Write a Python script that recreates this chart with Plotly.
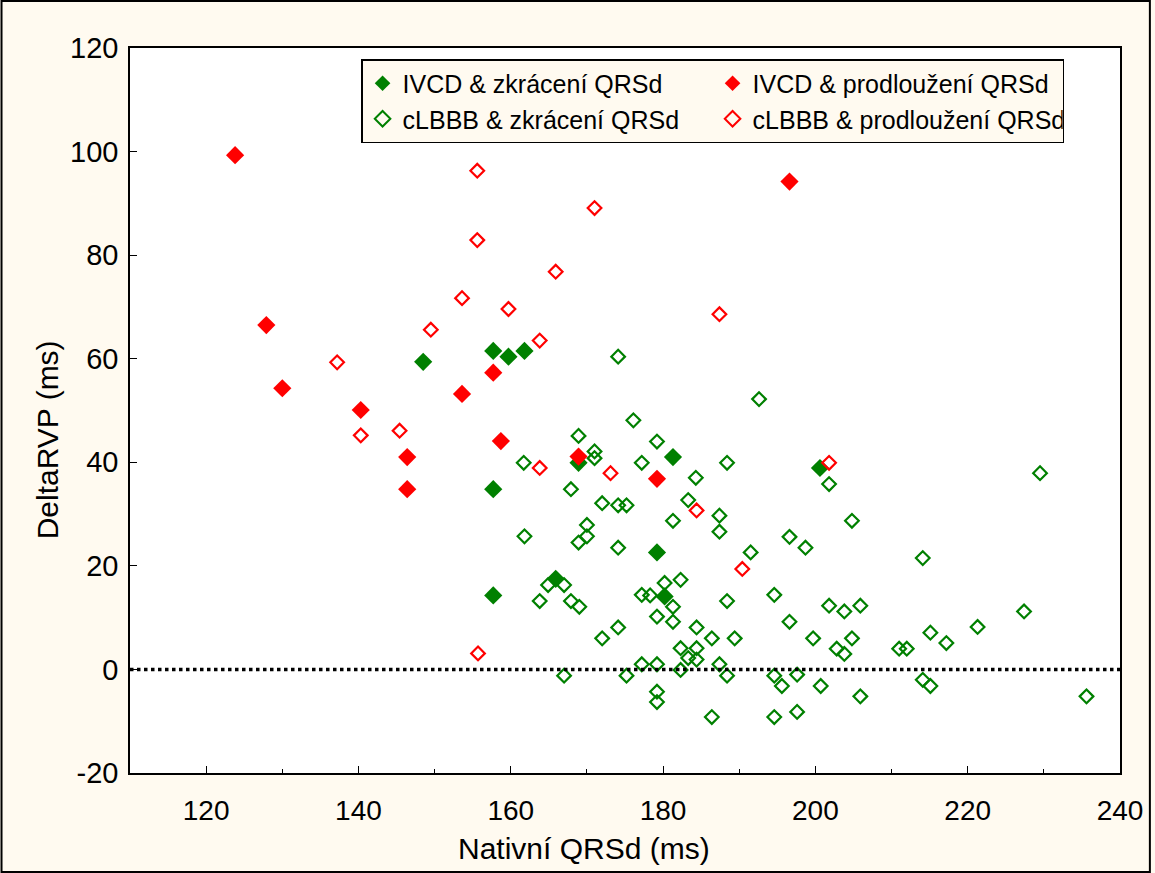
import plotly.graph_objects as go

# IVCD & zkrácení QRSd (green filled)
ivcd_zkr_x = [148.5, 157.7, 159.7, 161.8, 157.7, 157.7, 165.9, 168.9, 179.2, 180.2, 181.3, 200.6]
ivcd_zkr_y = [59.4, 61.5, 60.4, 61.5, 34.8, 14.3, 17.5, 39.9, 22.6, 14.1, 41.0, 38.9]

# IVCD & prodloužení QRSd (red filled)
ivcd_pro_x = [123.8, 127.9, 130.0, 140.3, 146.4, 146.4, 153.6, 157.7, 158.7, 168.9, 179.2, 196.6]
ivcd_pro_y = [99.3, 66.5, 54.3, 50.1, 41.0, 34.8, 53.2, 57.3, 44.1, 41.1, 36.8, 94.2]

# cLBBB & zkrácení QRSd (green open)
clbbb_zkr_x = [174.1, 192.6, 176.1, 168.9, 179.2, 171.0, 171.0, 161.7, 177.2, 188.4,
               184.3, 167.9, 172.0, 174.1, 175.2, 183.3, 187.4, 187.4, 196.6, 181.3,
               170.0, 170.0, 168.9, 161.8, 174.1, 191.5, 164.9, 167.0, 163.8, 167.9,
               169.0, 180.2, 182.3, 177.2, 178.3, 181.3, 188.4, 194.6, 196.6, 179.2,
               181.3, 174.1, 172.0, 184.4, 186.4, 189.4, 182.3, 184.4, 183.3, 184.4,
               177.2, 179.2, 182.3, 187.4, 188.4, 167.0, 175.2, 179.2, 179.2, 186.4,
               194.6, 194.6, 195.6, 197.6, 201.8, 229.5, 204.8, 198.7, 214.1, 201.8,
               203.8, 205.9, 227.4, 221.3, 215.1, 217.2, 211.0, 212.0, 199.7, 204.8,
               202.8, 203.8, 197.6, 200.7, 205.9, 214.1, 215.1, 235.6]
clbbb_zkr_y = [60.4, 52.2, 48.1, 45.1, 44.0, 42.1, 40.8, 39.9, 39.9, 39.9,
               37.0, 34.8, 32.1, 31.7, 31.7, 32.7, 29.7, 26.6, 25.6, 28.7,
               27.9, 25.7, 24.5, 25.7, 23.5, 22.6, 16.3, 16.3, 13.2, 13.2,
               12.1, 16.7, 17.3, 14.4, 14.3, 12.1, 13.2, 14.4, 9.2, 10.2,
               9.2, 8.1, 6.0, 8.1, 6.0, 6.0, 4.1, 4.1, 2.2, 1.9,
               1.0, 1.0, -0.1, 1.0, -1.2, -1.2, -1.2, -4.3, -6.3, -9.2,
               -9.2, -1.2, -3.2, -8.2, 35.8, 37.9, 28.7, 23.5, 21.5, 12.3,
               11.2, 12.3, 11.2, 8.2, 7.1, 5.1, 4.0, 4.0, 6.0, 6.0,
               4.0, 3.0, -1.0, -3.2, -5.2, -2.0, -3.2, -5.2]

# cLBBB & prodloužení QRSd (red open)
clbbb_pro_x = [137.2, 140.3, 145.4, 155.6, 155.6, 153.6, 149.5, 159.7, 163.8, 165.9,
               171.0, 187.4, 163.8, 173.1, 184.4, 190.4, 201.8, 155.7]
clbbb_pro_y = [59.3, 45.2, 46.1, 96.3, 82.9, 71.7, 65.6, 69.6, 63.5, 76.8,
               89.1, 68.6, 38.9, 37.9, 30.7, 19.4, 39.9, 3.1]

x_ticks = [120, 140, 160, 180, 200, 220, 240]
y_ticks = [-20, 0, 20, 40, 60, 80, 100, 120]
y_ticktext = ["-20", "0", "20", "40", "60", "80", "100", "120"]

GREEN = "#008000"
RED = "#FF0000"
BG = "#FFFAF0"
FONT = "Liberation Sans, Arial, sans-serif"

fig = go.Figure()
fig.add_trace(go.Scatter(x=clbbb_zkr_x, y=clbbb_zkr_y, mode="markers",
                         name="cLBBB & zkrácení QRSd", legendrank=3,
                         marker=dict(symbol="diamond-open", size=10.5, color=GREEN,
                                     line=dict(width=2.2, color=GREEN))))
fig.add_trace(go.Scatter(x=ivcd_zkr_x, y=ivcd_zkr_y, mode="markers",
                         name="IVCD & zkrácení QRSd", legendrank=1,
                         marker=dict(symbol="diamond", size=14, color=GREEN,
                                     line=dict(width=0))))
fig.add_trace(go.Scatter(x=clbbb_pro_x, y=clbbb_pro_y, mode="markers",
                         name="cLBBB & prodloužení QRSd", legendrank=4,
                         marker=dict(symbol="diamond-open", size=10.5, color=RED,
                                     line=dict(width=2.2, color=RED))))
fig.add_trace(go.Scatter(x=ivcd_pro_x, y=ivcd_pro_y, mode="markers",
                         name="IVCD & prodloužení QRSd", legendrank=2,
                         marker=dict(symbol="diamond", size=14, color=RED,
                                     line=dict(width=0))))

W, H = 1155, 873
L, R, T, B = 130, 31, 48, 100
pw, ph = W - L - R, H - T - B

fig.add_shape(type="line", xref="paper", yref="y", x0=0, x1=1, y0=0, y1=0,
              line=dict(color="black", width=3.5, dash="dot"), layer="above")
fig.add_shape(type="rect", xref="paper", yref="paper",
              x0=(1 - L) / pw, x1=(W - 1 - L) / pw,
              y0=(H - B - (H - 1)) / ph, y1=(H - B - 1) / ph,
              line=dict(color="black", width=2), fillcolor="rgba(0,0,0,0)")

# axis titles (centred on the page as in the reference)
fig.add_annotation(text="Nativní QRSd (ms)", xref="paper", yref="paper",
                   x=(586 - L) / pw, y=(H - B - 848) / ph,
                   xanchor="center", yanchor="middle", showarrow=False,
                   font=dict(size=30, family=FONT, color="black"))
fig.add_annotation(text="DeltaRVP (ms)", xref="paper", yref="paper",
                   x=(47 - L) / pw, y=(H - B - 440) / ph, textangle=-90,
                   xanchor="center", yanchor="middle", showarrow=False,
                   font=dict(size=30, family=FONT, color="black"))

fig.update_layout(
    width=W, height=H,
    margin=dict(l=L, r=R, t=T, b=B),
    paper_bgcolor=BG, plot_bgcolor="white",
    font=dict(family=FONT, color="black"),
    showlegend=True,
    legend=dict(orientation="h", x=(362 - L) / pw, y=(H - B - 59) / ph,
                xanchor="left", yanchor="top",
                bgcolor=BG, bordercolor="black", borderwidth=1.5,
                font=dict(size=25, family=FONT), entrywidth=305,
                tracegroupgap=0, itemsizing="constant"),
    xaxis=dict(range=[110, 240], tickvals=x_ticks, ticks="inside", ticklen=7,
               tickwidth=1.2, tickcolor="black", ticklabelstandoff=12,
               minor=dict(dtick=10, tick0=110, ticks="inside", ticklen=4, tickcolor="black"),
               showgrid=False, zeroline=False, showline=True, mirror=True,
               linecolor="black", linewidth=1.5,
               tickfont=dict(size=28, family=FONT)),
    yaxis=dict(range=[-20, 120], tickvals=y_ticks, ticktext=y_ticktext,
               ticks="inside", ticklen=7, ticklabelstandoff=4,
               tickwidth=1.2, tickcolor="black",
               showgrid=False, zeroline=False, showline=True, mirror=True,
               linecolor="black", linewidth=1.5,
               tickfont=dict(size=29, family=FONT)),
)

fig.write_html("out.html")
